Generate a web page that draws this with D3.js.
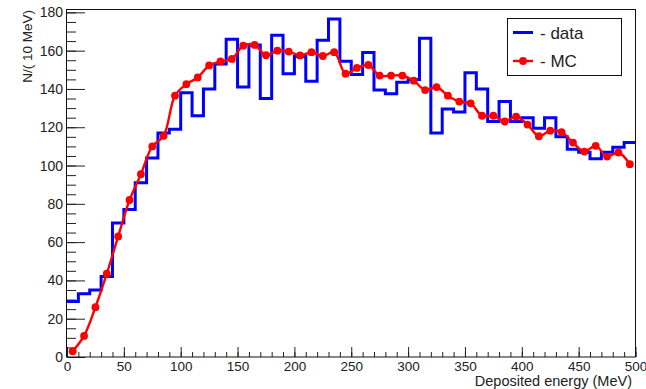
<!DOCTYPE html>
<html>
<head>
<meta charset="utf-8">
<script src="https://cdn.jsdelivr.net/npm/d3@7/dist/d3.min.js"></script>
<style>
  body { margin: 0; background: #fff; }
  svg text { font-family: "Liberation Sans", Arial, sans-serif; fill: #222; }
</style>
</head>
<body>
<svg id="chart" width="646" height="389"></svg>
<script>
// energy bins, low edge (MeV), 10 MeV wide
var binWidth = 10;
var binLow = [0, 10, 20, 30, 40, 50, 60, 70, 80, 90,
  100, 110, 120, 130, 140, 150, 160, 170, 180, 190,
  200, 210, 220, 230, 240, 250, 260, 270, 280, 290,
  300, 310, 320, 330, 340, 350, 360, 370, 380, 390,
  400, 410, 420, 430, 440, 450, 460, 470, 480, 490];

// measured counts per bin
var dataCounts = [29, 33, 35, 42, 70, 77, 91, 104, 117, 119,
  138, 126, 140, 153, 166, 141, 163, 135, 168, 148,
  157, 144, 165.5, 176.5, 154.5, 147.5, 159, 139.5, 137.5, 143.5,
  145, 166.5, 117, 129.5, 128, 148.5, 140, 123, 133.5, 123,
  125, 119.5, 125, 115, 108.5, 107, 103.5, 107, 109.5, 112];

// simulation, at bin centres
var mcCounts = [3, 11, 26, 43.5, 63, 82, 95.5, 110, 115.5, 136.5,
  142.5, 146, 152.3, 154.4, 155.7, 162.6, 163, 157.6, 160, 159.5,
  157.5, 159.2, 157.2, 159.2, 148, 151, 152.5, 147, 147, 147,
  144.3, 139.4, 141, 136.5, 133.4, 132.5, 126, 126, 123, 125.6,
  121.4, 115.3, 118.2, 117.5, 112, 107.3, 110.3, 104.7, 106.8, 100.7];

var xTicks = [0, 50, 100, 150, 200, 250, 300, 350, 400, 450, 500];
var yTicks = [0, 20, 40, 60, 80, 100, 120, 140, 160, 180];

var svg = d3.select("#chart");

var x = d3.scaleLinear().domain([0, 500]).range([67, 635.5]);
var y = d3.scaleLinear().domain([0, 181.5]).range([357, 9.5]);

// minor ticks first, then major ones with labels
svg.append("g")
  .attr("transform", "translate(67,0)")
  .call(d3.axisLeft(y).tickValues(d3.range(0, 181, 5)).tickSizeInner(-9).tickSizeOuter(0).tickFormat(""))
  .call(function(g) { g.select(".domain").remove(); g.selectAll("line").attr("stroke", "#222"); });

svg.append("g")
  .attr("transform", "translate(67,0)")
  .call(d3.axisLeft(y).tickValues(yTicks).tickSizeInner(-18).tickSizeOuter(0).tickPadding(4))
  .call(function(g) {
    g.select(".domain").remove();
    g.selectAll("line").attr("stroke", "#222");
    g.selectAll("text").style("font-size", "14px").style("font-family", "Liberation Sans, Arial, sans-serif").attr("fill", "#222");
  });

svg.append("g")
  .attr("transform", "translate(0,357)")
  .call(d3.axisBottom(x).tickValues(d3.range(0, 501, 10)).tickSizeInner(-5).tickSizeOuter(0).tickFormat(""))
  .call(function(g) { g.select(".domain").remove(); g.selectAll("line").attr("stroke", "#222"); });

svg.append("g")
  .attr("transform", "translate(0,357)")
  .call(d3.axisBottom(x).tickValues(xTicks).tickSizeInner(-10).tickSizeOuter(0).tickPadding(4))
  .call(function(g) {
    g.select(".domain").remove();
    g.selectAll("line").attr("stroke", "#222");
    g.selectAll("text").style("font-size", "13.5px").style("font-family", "Liberation Sans, Arial, sans-serif").attr("fill", "#222");
  });

// frame
svg.append("rect")
  .attr("x", 66.5).attr("y", 9.5)
  .attr("width", 569).attr("height", 347.5)
  .style("fill", "none").style("stroke", "#111").style("stroke-width", 1);

// data histogram as steps
var steps = binLow.map(function(d, i) { return [d, dataCounts[i]]; });
steps.push([binLow[binLow.length - 1] + binWidth, dataCounts[dataCounts.length - 1]]);

svg.append("path")
  .datum(steps)
  .attr("d", d3.line().x(function(d) { return x(d[0]); }).y(function(d) { return y(d[1]); }).curve(d3.curveStepAfter))
  .style("fill", "none").style("stroke", "#0000ff").style("stroke-width", 3);

// MC smooth curve + markers
var mcPts = binLow.map(function(d, i) { return [d + binWidth / 2, mcCounts[i]]; });

svg.append("path")
  .datum(mcPts)
  .attr("d", d3.line().x(function(d) { return x(d[0]); }).y(function(d) { return y(d[1]); }).curve(d3.curveCatmullRom))
  .style("fill", "none").style("stroke", "#ff0000").style("stroke-width", 2.4);

svg.selectAll("circle.mc").data(mcPts).enter().append("circle")
  .attr("class", "mc")
  .attr("cx", function(d) { return x(d[0]); })
  .attr("cy", function(d) { return y(d[1]); })
  .attr("r", 3.9)
  .style("fill", "#ff0000");

// axis titles
svg.append("text").attr("x", 632).attr("y", 386).text("Deposited energy (MeV)")
  .style("font-size", "14.5px").attr("text-anchor", "end");
svg.append("text").attr("transform", "translate(32,10) rotate(-90)").text("N/( 10 MeV)")
  .style("font-size", "13.5px").attr("text-anchor", "end");

// legend
var leg = svg.append("g");
leg.append("rect").attr("x", 507.5).attr("y", 18.5).attr("width", 114).attr("height", 57)
  .style("fill", "#fff").style("stroke", "#111").style("stroke-width", 1);
leg.append("line").attr("x1", 513).attr("x2", 533).attr("y1", 32.5).attr("y2", 32.5)
  .style("stroke", "#0000ff").style("stroke-width", 3);
leg.append("line").attr("x1", 513).attr("x2", 533).attr("y1", 61).attr("y2", 61)
  .style("stroke", "#ff0000").style("stroke-width", 2.4);
leg.append("circle").attr("cx", 523).attr("cy", 61).attr("r", 3.9).style("fill", "#ff0000");
leg.append("text").attr("x", 540).attr("y", 38.5).text("- data").style("font-size", "17px");
leg.append("text").attr("x", 540).attr("y", 67).text("- MC").style("font-size", "17px");
</script>
</body>
</html>
